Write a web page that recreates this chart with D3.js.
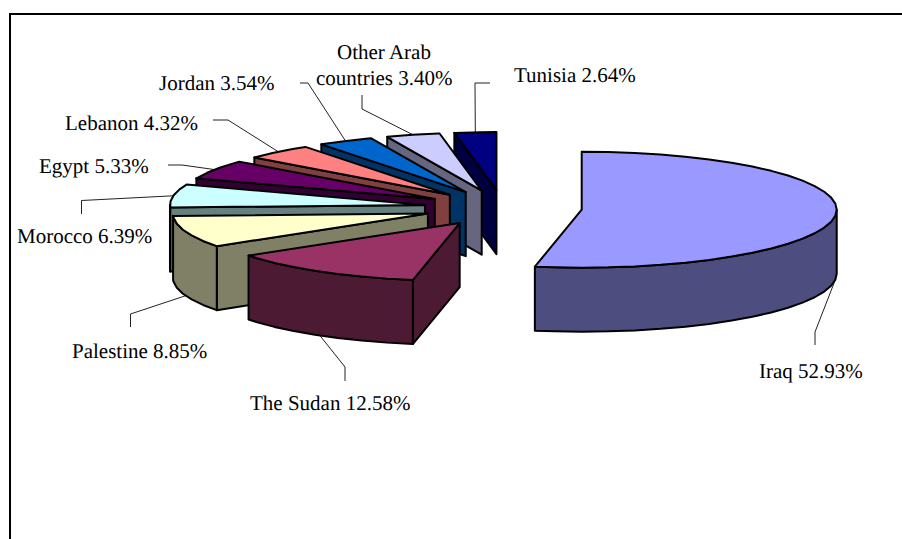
<!DOCTYPE html>
<html>
<head>
<meta charset="utf-8">
<title>Arab residents by country</title>
<script src="https://cdn.jsdelivr.net/npm/d3@7"></script>
<style>
    html, body { margin: 0; padding: 0; background: #fff; }
    svg { display: block; }
    text { font-family: "Liberation Serif", "Times New Roman", serif; font-size: 21px; fill: #000; text-rendering: geometricPrecision; }
</style>
</head>
<body>
<svg id="grafico" width="902" height="539"></svg>
<script>
// nationality shares, clockwise from 12 o'clock
var paises = ["Iraq", "The Sudan", "Palestine", "Morocco", "Egypt", "Lebanon", "Jordan", "Other Arab countries", "Tunisia"];
var porcentajes = [52.93, 12.58, 8.85, 6.39, 5.33, 4.32, 3.54, 3.40, 2.64];

// slice fill, the walls use the same colour at half brightness
var colores = ["#9999ff", "#993366", "#ffffcc", "#ccffff", "#660066", "#ff8080", "#0066cc", "#ccccff", "#000080"];

// label placement: first baseline, left edge, and the elbow of its leader line
var etiquetasX = [759, 250, 72, 17, 39, 65, 159, 337, 514];
var etiquetasY = [378, 410, 358, 243, 173, 130, 90, 59, 82];
var lineasLabel = [
    [[815, 345], [815, 332]],
    [[345, 381], [345, 367]],
    [[130.5, 327], [130.5, 314]],
    [[81.5, 214], [81.5, 200.5]],
    [[168, 165], [182, 165]],
    [[213, 120], [228, 120]],
    [[300, 83], [308, 83]],
    [[362, 95], [362, 109]],
    [[490, 83], [475, 83]]
];

var width = 902;
var height = 539;
var centro = { x: 503, y: 208 };
var radioX = 255;   // horizontal radius of the tilted pie
var radioY = 58;    // vertical radius after the tilt
var grosor = 64;    // height of the walls
var separacion = 0.31; // how far every slice is pulled out, in radius units
var pasoRim = 6 * Math.PI / 180; // the rim is drawn as short straight pieces

var svg = d3.select("#grafico");

var escalaX = d3.scaleLinear().domain([-1, 1]).range([centro.x - radioX, centro.x + radioX]);
var escalaY = d3.scaleLinear().domain([-1, 1]).range([centro.y + radioY, centro.y - radioY]);

var pie = d3.pie().sort(null).startAngle(0).endAngle(2 * Math.PI);
var arcos = pie(porcentajes);

var linea = d3.line();

//project a point of a pulled-out slice to the screen, r = 0 is its apex and r = 1 its rim
function punto(d, angulo, r, abajo) {
    var medio = (d.startAngle + d.endAngle) / 2;
    var ux = separacion * Math.sin(medio) + r * Math.sin(angulo);
    var uy = separacion * Math.cos(medio) + r * Math.cos(angulo);
    return [escalaX(ux), escalaY(uy) + (abajo ? grosor : 0)];
}

function anguloRim(desde, hasta) {
    var lista = d3.range(desde, hasta, pasoRim);
    lista.push(hasta);
    return lista;
}

function dibujaCara(g, puntos, color) {
    g.append("path")
        .attr("d", linea(puntos) + "Z")
        .attr("fill", color)
        .attr("stroke", "#000")
        .attr("stroke-width", 2)
        .attr("stroke-linejoin", "round");
}

//frame of the chart area, only its top and left edges are inside the page
svg.append("path")
    .attr("d", linea([[10, height], [10, 14], [width, 14]]))
    .attr("fill", "none")
    .attr("stroke", "#000")
    .attr("stroke-width", 2);

//leader lines go below the slices
svg.selectAll(".leader")
    .data(arcos)
    .enter()
    .append("path")
    .attr("class", "leader")
    .attr("fill", "none")
    .attr("stroke", "#222")
    .attr("stroke-width", 1)
    .attr("d", function (d, i) {
        var medio = (d.startAngle + d.endAngle) / 2;
        var visible = Math.cos(medio) < 0; // front of the pie: the line leaves from the wall bottom
        return linea(lineasLabel[i].concat([punto(d, medio, 1, visible)]));
    });

//back slices first so the front ones cover them
arcos.slice().reverse().forEach(function (d) {
    var i = d.index;
    var g = svg.append("g").attr("class", "slice");
    var c = d3.rgb(colores[i]);
    var colorPared = d3.rgb(c.r / 2, c.g / 2, c.b / 2).formatHex();

    //flat wall of the cut, it only faces the viewer on one side of the pie
    [d.startAngle, d.endAngle].forEach(function (a, k) {
        var seVe = k === 0 ? Math.sin(a) < -1e-6 : Math.sin(a) > 1e-6;
        if (seVe) {
            dibujaCara(g, [punto(d, a, 0), punto(d, a, 1), punto(d, a, 1, true), punto(d, a, 0, true)], colorPared);
        }
    });

    //curved wall, only the front half of the rim
    var a0 = Math.max(d.startAngle, Math.PI / 2);
    var a1 = Math.min(d.endAngle, 3 * Math.PI / 2);
    if (a1 > a0) {
        var angulos = anguloRim(a0, a1);
        var arriba = angulos.map(function (a) { return punto(d, a, 1); });
        var abajo = angulos.map(function (a) { return punto(d, a, 1, true); }).reverse();
        dibujaCara(g, arriba.concat(abajo), colorPared);
    }

    //top face
    var tapa = [punto(d, d.startAngle, 0)].concat(anguloRim(d.startAngle, d.endAngle).map(function (a) {
        return punto(d, a, 1);
    }));
    dibujaCara(g, tapa, colores[i]);
});

//labels with name and share
svg.selectAll(".etiqueta")
    .data(arcos)
    .enter()
    .append("text")
    .attr("class", "etiqueta")
    .attr("y", function (d, i) { return etiquetasY[i]; })
    .each(function (d, i) {
        var valor = porcentajes[i].toFixed(2) + "%";
        var t = d3.select(this);
        if (paises[i] === "Other Arab countries") {
            t.append("tspan").attr("x", etiquetasX[i]).text("Other Arab");
            t.append("tspan").attr("x", etiquetasX[i] - 21).attr("dy", 26).text("countries " + valor);
        } else {
            t.attr("x", etiquetasX[i]).text(paises[i] + " " + valor);
        }
    });
</script>
</body>
</html>
